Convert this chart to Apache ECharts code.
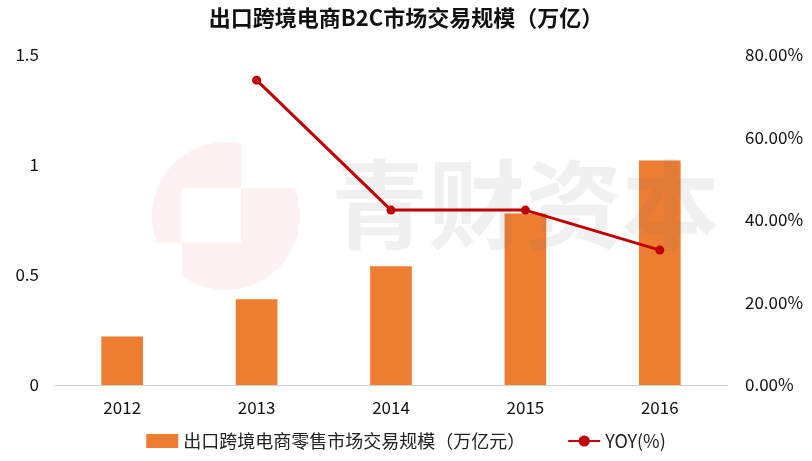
<!DOCTYPE html>
<html>
<head>
<meta charset="utf-8">
<script src="https://cdn.jsdelivr.net/npm/echarts@6/dist/echarts.min.js"></script>
<style>html,body{margin:0;padding:0;background:#fff}#c{width:812px;height:461px}</style>
</head>
<body>
<div id="c"></div>
<script>
const titleText = '出口跨境电商B2C市场交易规模（万亿）';
const categories = ['2012', '2013', '2014', '2015', '2016'];
const barName = '出口跨境电商零售市场交易规模（万亿元）';
const barValues = [0.22, 0.39, 0.54, 0.78, 1.02];
const lineName = 'YOY(%)';
const yoyValues = [null, 73.9, 42.4, 42.4, 32.7];
const watermarkText = '青财资本';

const chart = echarts.init(document.getElementById('c'));
const font = '"Noto Sans CJK SC", "DejaVu Sans", sans-serif';
chart.setOption({
  backgroundColor: '#fff',
  animation: false,
  title: {
    text: titleText, left: 'center', top: 2,
    textStyle: {fontFamily: font, fontSize: 22, fontWeight: 'bold', color: '#111'}
  },
  legend: {
    bottom: 6, left: 'center', itemGap: 42, itemWidth: 32, itemHeight: 14,
    textStyle: {fontFamily: font, fontSize: 18, color: '#222'},
    data: [
      {name: barName, icon: 'rect'},
      {name: lineName}
    ]
  },
  grid: {left: 55, right: 85, top: 55, bottom: 76},
  graphic: [
    {type: 'group', z: 0, silent: true, children: [
      {type: 'circle', shape: {cx: 226, cy: 216, r: 74}, style: {fill: 'rgba(230,60,70,0.07)'}},
      {type: 'rect', shape: {x: 241, y: 138, width: 70, height: 50}, style: {fill: '#fff'}},
      {type: 'rect', shape: {x: 181, y: 188, width: 60, height: 55}, style: {fill: '#fff'}},
      {type: 'rect', shape: {x: 145, y: 243, width: 37, height: 60}, style: {fill: '#fff'}}
    ]},
    {type: 'text', z: 5, silent: true, left: 331, top: 156,
      style: {text: watermarkText, fontFamily: font, fontSize: 97, fontWeight: 'bold',
        fill: 'rgba(120,120,120,0.11)'}}
  ],
  xAxis: {
    type: 'category', data: categories,
    axisLine: {lineStyle: {color: '#d0d0d0', width: 1}},
    axisTick: {show: false},
    axisLabel: {fontFamily: font, fontSize: 17, color: '#111', margin: 14}
  },
  yAxis: [
    {type: 'value', min: 0, max: 1.5, interval: 0.5, position: 'left',
      splitLine: {show: false}, axisLine: {show: false}, axisTick: {show: false},
      axisLabel: {fontFamily: font, fontSize: 17, color: '#111', margin: 16}},
    {type: 'value', min: 0, max: 80, interval: 20, position: 'right',
      splitLine: {show: false}, axisLine: {show: false}, axisTick: {show: false},
      axisLabel: {fontFamily: font, fontSize: 17, color: '#111', margin: 18,
        formatter: v => v.toFixed(2) + '%'}}
  ],
  series: [
    {name: barName, type: 'bar', data: barValues, barWidth: '31%', z: 2,
      itemStyle: {color: '#ED7D31'}},
    {name: lineName, type: 'line', yAxisIndex: 1, data: yoyValues, z: 10,
      symbol: 'circle', symbolSize: 9, connectNulls: false,
      lineStyle: {color: '#C00000', width: 3}, itemStyle: {color: '#C00000'}}
  ]
});
</script>
</body>
</html>
